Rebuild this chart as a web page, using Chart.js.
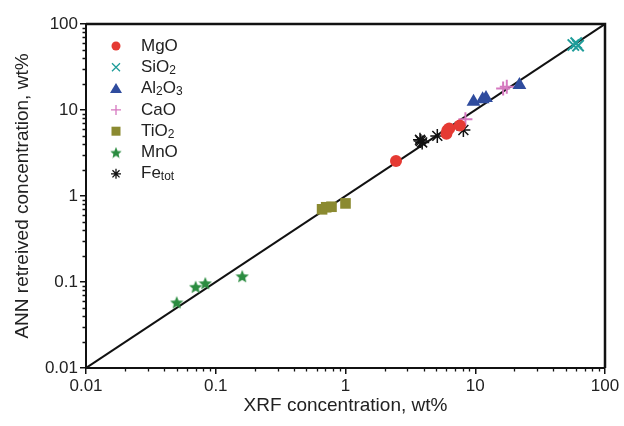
<!DOCTYPE html>
<html>
<head>
<meta charset="utf-8">
<script src="https://cdn.jsdelivr.net/npm/chart.js@4/dist/chart.umd.min.js"></script>
<style>
  html, body { margin: 0; padding: 0; background: #fff; }
  canvas { display: block; }
</style>
</head>
<body>
<canvas id="chart" width="624" height="426"></canvas>
<script>
// ---- data (wt%) ----
const seriesNames = ['MgO', 'SiO_{2}', 'Al_{2}O_{3}', 'CaO', 'TiO_{2}', 'MnO', 'Fe_{tot}'];

const mgoX = [2.45, 6.0, 6.1, 6.3, 7.6];
const mgoY = [2.55, 5.3, 5.8, 6.1, 6.6];
const sio2X = [57, 60, 62];
const sio2Y = [57, 60, 56];
const al2o3X = [9.7, 11.4, 12.1, 21.9];
const al2o3Y = [12.5, 13.3, 13.8, 19.5];
const caoX = [8.4, 16.4, 17.5];
const caoY = [7.8, 17.8, 18.6];
const tio2X = [0.66, 0.71, 0.78, 1.0];
const tio2Y = [0.70, 0.74, 0.75, 0.82];
const mnoX = [0.050, 0.070, 0.083, 0.16];
const mnoY = [0.058, 0.088, 0.097, 0.117];
const feX = [3.75, 3.9, 3.8, 5.1, 8.1];
const feY = [4.5, 4.2, 4.35, 5.0, 5.85];

// 1:1 line
const lineX = [0.01, 100];
const lineY = [0.01, 100];

// axis ticks
const tickValues = [0.01, 0.1, 1, 10, 100];
const tickLabels = ['0.01', '0.1', '1', '10', '100'];

const FONT = "'Liberation Sans', Arial, sans-serif";
const TEXT = '#222';

const toPoints = (xs, ys) => xs.map((x, i) => ({ x, y: ys[i] }));

// filled five-point star used for MnO
function makeStar(size, color) {
  const c = document.createElement('canvas');
  c.width = size; c.height = size;
  const g = c.getContext('2d');
  const cx = size / 2, cy = size / 2 + size * 0.05;
  const ro = size / 2, ri = ro * 0.45;
  g.beginPath();
  for (let i = 0; i < 10; i++) {
    const r = i % 2 ? ri : ro;
    const a = -Math.PI / 2 + i * Math.PI / 5;
    g.lineTo(cx + r * Math.cos(a), cy + r * Math.sin(a));
  }
  g.closePath();
  g.fillStyle = color;
  g.fill();
  return c;
}

const colors = {
  mgo: '#e53a33', sio2: '#1f9d9a', al2o3: '#2f4c9e', cao: '#d678c0',
  tio2: '#8b8a30', mno: '#2b8c40', fe: '#111111'
};

const starPlot = makeStar(14, colors.mno);
const starLegend = makeStar(12, colors.mno);

const datasets = [
  { label: seriesNames[0], data: toPoints(mgoX, mgoY), pointStyle: 'circle', pointRadius: 6,
    backgroundColor: colors.mgo, borderColor: colors.mgo, borderWidth: 0 },
  { label: seriesNames[1], data: toPoints(sio2X, sio2Y), pointStyle: 'crossRot', pointRadius: 8,
    backgroundColor: colors.sio2, borderColor: colors.sio2, borderWidth: 2 },
  { label: seriesNames[2], data: toPoints(al2o3X, al2o3Y), pointStyle: 'triangle', pointRadius: 8,
    backgroundColor: colors.al2o3, borderColor: colors.al2o3, borderWidth: 0 },
  { label: seriesNames[3], data: toPoints(caoX, caoY), pointStyle: 'cross', pointRadius: 7,
    backgroundColor: colors.cao, borderColor: colors.cao, borderWidth: 2 },
  { label: seriesNames[4], data: toPoints(tio2X, tio2Y), pointStyle: 'rect', pointRadius: 7.5,
    backgroundColor: colors.tio2, borderColor: colors.tio2, borderWidth: 0 },
  { label: seriesNames[5], data: toPoints(mnoX, mnoY), pointStyle: starPlot, pointRadius: 7,
    backgroundColor: colors.mno, borderColor: colors.mno, borderWidth: 0 },
  { label: seriesNames[6], data: toPoints(feX, feY), pointStyle: 'star', pointRadius: 7,
    backgroundColor: colors.fe, borderColor: colors.fe, borderWidth: 1.5 },
  { label: '1:1', data: toPoints(lineX, lineY), showLine: true, pointRadius: 0,
    borderColor: '#111', borderWidth: 2, order: 10 }
];

/* ---------------------------------------------------------------------------
    legend inside plot, minor ticks and top/right frame
--------------------------------------------------------------------------- */

// draws text where _{...} becomes a small subscript
function drawRichText(ctx, text, x, y) {
  const parts = text.split(/(_\{[^}]*\})/).filter(Boolean);
  ctx.textBaseline = 'middle';
  ctx.textAlign = 'left';
  for (const p of parts) {
    const sub = p.startsWith('_{');
    const t = sub ? p.slice(2, -1) : p;
    ctx.font = sub ? `12px ${FONT}` : `17px ${FONT}`;
    ctx.fillText(t, x, sub ? y + 3 : y);
    x += ctx.measureText(t).width;
  }
}

function drawLegendMarker(ctx, idx, x, y) {
  const ds = datasets[idx];
  ctx.save();
  ctx.fillStyle = ds.backgroundColor;
  ctx.strokeStyle = ds.borderColor;
  ctx.lineWidth = 1.3;
  ctx.beginPath();
  switch (idx) {
    case 0: ctx.arc(x, y, 4.5, 0, Math.PI * 2); ctx.fill(); break;
    case 1: ctx.moveTo(x - 4, y - 4); ctx.lineTo(x + 4, y + 4);
            ctx.moveTo(x + 4, y - 4); ctx.lineTo(x - 4, y + 4); ctx.stroke(); break;
    case 2: ctx.moveTo(x, y - 5.5); ctx.lineTo(x + 6, y + 4.5); ctx.lineTo(x - 6, y + 4.5);
            ctx.closePath(); ctx.fill(); break;
    case 3: ctx.moveTo(x - 5, y); ctx.lineTo(x + 5, y);
            ctx.moveTo(x, y - 5); ctx.lineTo(x, y + 5); ctx.stroke(); break;
    case 4: ctx.fillRect(x - 4.5, y - 4.5, 9, 9); break;
    case 5: ctx.drawImage(starLegend, x - 6, y - 6); break;
    case 6:
      for (let k = 0; k < 4; k++) {
        const a = k * Math.PI / 4;
        ctx.moveTo(x - 5 * Math.cos(a), y - 5 * Math.sin(a));
        ctx.lineTo(x + 5 * Math.cos(a), y + 5 * Math.sin(a));
      }
      ctx.stroke(); break;
  }
  ctx.restore();
}

const decorPlugin = {
  id: 'decor',
  afterDraw(chart) {
    const { ctx, chartArea: a, scales } = chart;
    ctx.save();

    // minor ticks on left and bottom axes
    ctx.strokeStyle = '#111';
    ctx.lineWidth = 1.3;
    ctx.beginPath();
    for (const d of tickValues.slice(0, -1)) {
      for (let m = 2; m <= 9; m++) {
        const v = d * m;
        const px = Math.round(scales.x.getPixelForValue(v)) + 0.5;
        ctx.moveTo(px, a.bottom); ctx.lineTo(px, a.bottom + 3.5);
        const py = Math.round(scales.y.getPixelForValue(v)) + 0.5;
        ctx.moveTo(a.left, py); ctx.lineTo(a.left - 3.5, py);
      }
    }
    ctx.stroke();

    // top and right frame
    ctx.lineWidth = 2.5;
    ctx.beginPath();
    ctx.moveTo(a.left, a.top); ctx.lineTo(a.right, a.top); ctx.lineTo(a.right, a.bottom);
    ctx.stroke();

    // legend
    seriesNames.forEach((name, i) => {
      const y = 46 + i * 21.3;
      drawLegendMarker(ctx, i, a.left + 30, y);
      ctx.fillStyle = TEXT;
      drawRichText(ctx, name, a.left + 55, y);
    });
    ctx.restore();
  }
};

const axisCommon = (title, pad) => ({
  type: 'logarithmic',
  min: 0.01,
  max: 100,
  afterBuildTicks: (scale) => { scale.ticks = tickValues.map(v => ({ value: v })); },
  ticks: {
    autoSkip: false,
    maxRotation: 0,
    padding: 2,
    color: TEXT,
    font: { family: FONT, size: 17 },
    callback: (value, index) => tickLabels[index]
  },
  grid: { display: true, drawOnChartArea: false, drawTicks: true, tickLength: 6, color: '#111', lineWidth: 1.5 },
  border: { display: true, color: '#111', width: 2 },
  title: { display: true, text: title, color: TEXT, font: { family: FONT, size: 19 }, padding: pad }
});

new Chart(document.getElementById('chart'), {
  type: 'scatter',
  data: { datasets },
  options: {
    responsive: false,
    animation: false,
    devicePixelRatio: 1,
    layout: { padding: { top: 24, right: 19, left: 0, bottom: 0 } },
    plugins: { legend: { display: false }, tooltip: { enabled: false } },
    scales: {
      x: { ...axisCommon('XRF concentration, wt%', { top: 4, bottom: 9 }), position: 'bottom',
           afterFit: (scale) => { scale.height = 58; } },
      y: { ...axisCommon('ANN retreived concentration, wt%', { top: 11, bottom: 4 }), position: 'left',
           afterFit: (scale) => { scale.width = 86; } }
    }
  },
  plugins: [decorPlugin]
});
</script>
</body>
</html>
